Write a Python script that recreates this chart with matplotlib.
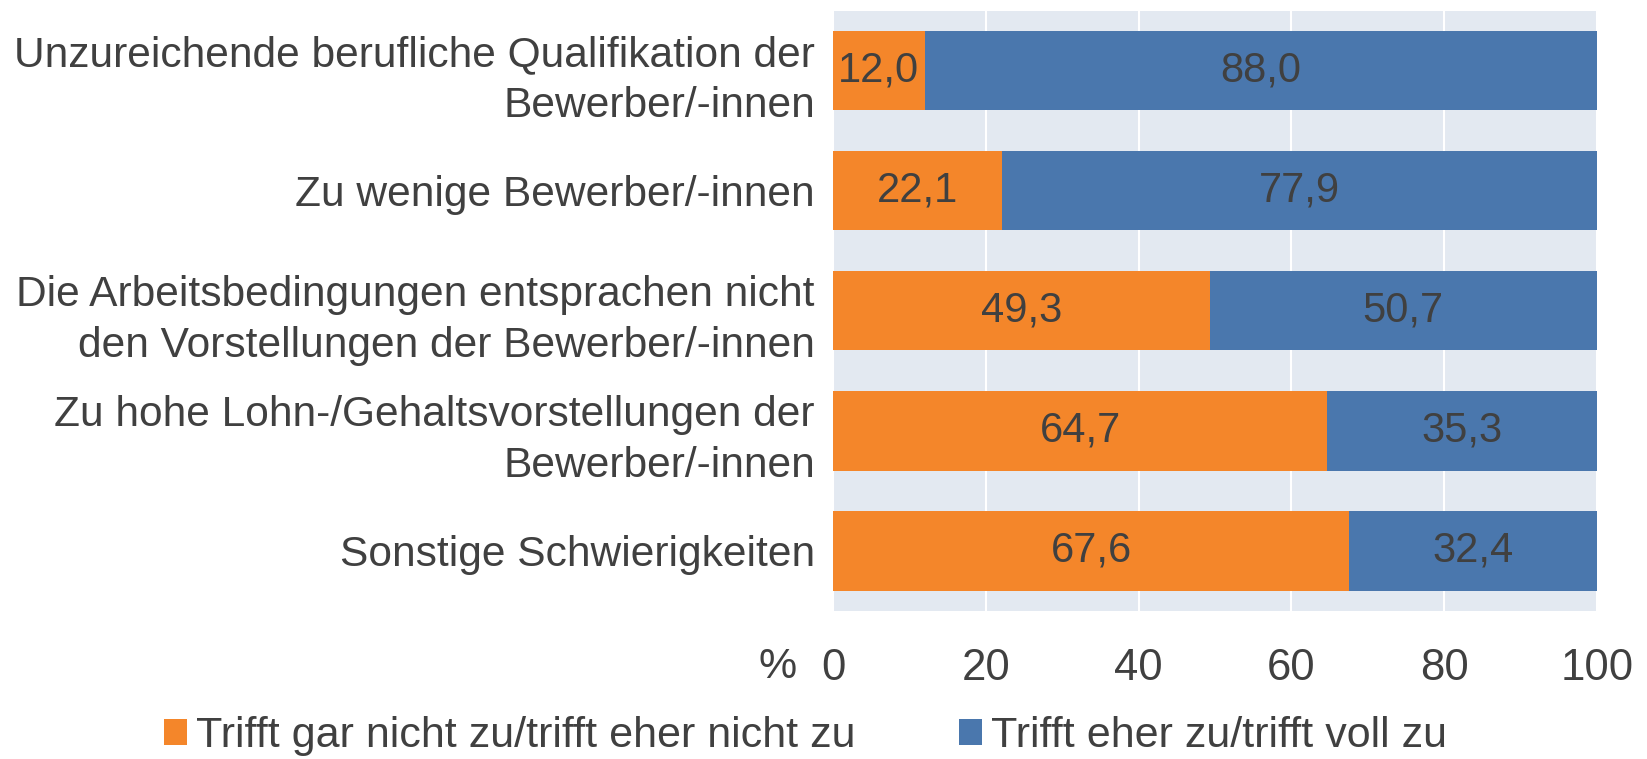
import matplotlib.pyplot as plt

plt.rcParams['font.family'] = ['Liberation Sans', 'DejaVu Sans']

categories = ['Unzureichende berufliche Qualifikation der\nBewerber/-innen',
              'Zu wenige Bewerber/-innen',
              'Die Arbeitsbedingungen entsprachen nicht\nden Vorstellungen der Bewerber/-innen',
              'Zu hohe Lohn-/Gehaltsvorstellungen der\nBewerber/-innen',
              'Sonstige Schwierigkeiten']
nicht_zu = [12.0, 22.1, 49.3, 64.7, 67.6]
eher_zu = [88.0, 77.9, 50.7, 35.3, 32.4]
series_labels = ['Trifft gar nicht zu/trifft eher nicht zu', 'Trifft eher zu/trifft voll zu']
xticks = [0, 20, 40, 60, 80, 100]

orange = '#F4862A'
blue = '#4A77AD'
textcol = '#404040'

fig = plt.figure(figsize=(16.47, 7.59), dpi=100)
ax = fig.add_axes([0.5058, 0.195, 0.4638, 0.791])
ax.set_facecolor('#E3E9F1')

y = range(len(categories))
b1 = ax.barh(y, nicht_zu, height=0.66, color=orange, label=series_labels[0], zorder=3)
b2 = ax.barh(y, eher_zu, left=nicht_zu, height=0.66, color=blue, label=series_labels[1], zorder=3)

for bars, vals, lefts in [(b1, nicht_zu, [0]*5), (b2, eher_zu, nicht_zu)]:
    for i, v in enumerate(vals):
        ax.text(lefts[i] + v / 2, i, f'{v:.1f}'.replace('.', ','), ha='center', va='center',
                fontsize=30, color=textcol, zorder=4)

ax.set_xlim(0, 100)
ax.set_ylim(4.5, -0.5)
ax.set_xticks(xticks)
ax.set_xticklabels([str(t) for t in xticks])
ax.set_yticks(list(y))
ax.set_yticklabels(categories, ha='right', linespacing=1.35)
ax.tick_params(axis='x', length=0, labelsize=31.5, labelcolor=textcol, pad=27)
ax.tick_params(axis='y', length=0, labelsize=30.6, labelcolor=textcol, pad=13)
ax.grid(axis='x', color='white', linewidth=1.5, zorder=1)
for s in ax.spines.values():
    s.set_visible(False)

fig.text(778 / 1647, 1 - 667 / 759, '%', ha='center', va='center', fontsize=31, color=textcol)

leg = fig.legend(handles=[b1, b2], loc='center', bbox_to_anchor=(0.489, 1 - 736 / 759), ncol=2,
                 frameon=False, fontsize=31, handlelength=0.55, handleheight=0.55,
                 handletextpad=0.2, columnspacing=2.4, borderpad=0.1)
for t in leg.get_texts():
    t.set_color(textcol)

fig.savefig('out.png', dpi=100)
